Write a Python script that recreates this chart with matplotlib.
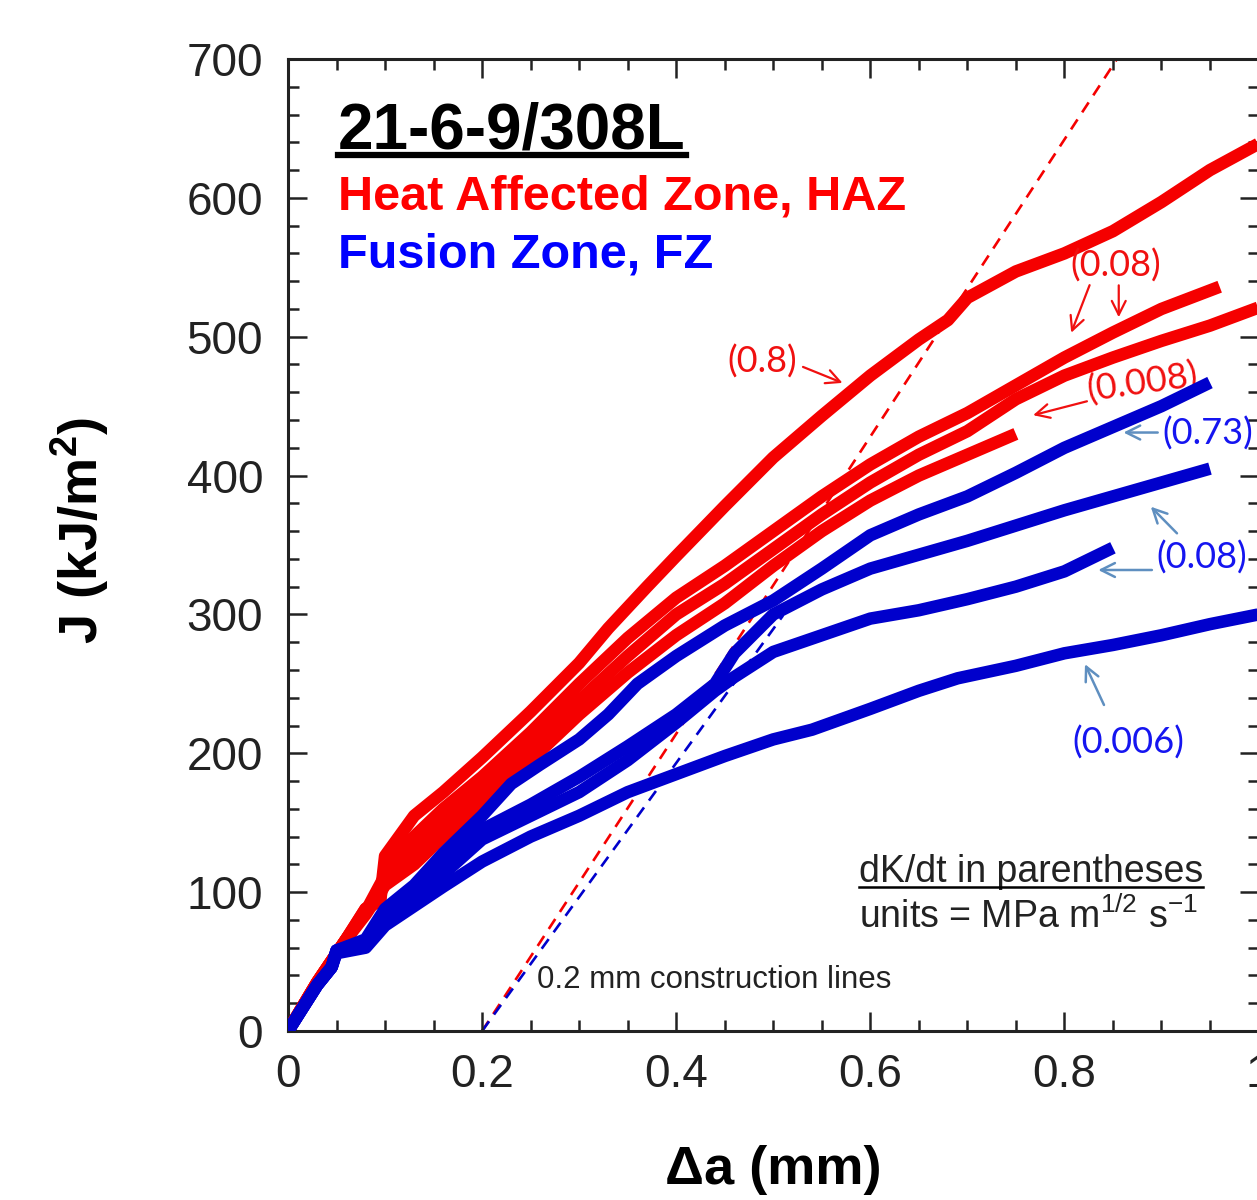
import matplotlib
matplotlib.use('Agg')
import matplotlib.pyplot as plt
from matplotlib.lines import Line2D
from matplotlib.ticker import MultipleLocator

plt.rcParams['font.family'] = ['Liberation Sans', 'DejaVu Sans']
plt.rcParams['mathtext.fontset'] = 'custom'
plt.rcParams['mathtext.rm'] = 'Liberation Sans'
plt.rcParams['mathtext.bf'] = 'Liberation Sans:bold'
plt.rcParams['mathtext.it'] = 'Liberation Sans:italic'

# HAZ (red) J-R curves, dK/dt in parentheses
haz_08_x = [0, 0.03, 0.06, 0.08, 0.095, 0.1, 0.13, 0.16, 0.2, 0.25, 0.3, 0.33, 0.37, 0.4, 0.45,
            0.5, 0.55, 0.6, 0.65, 0.68, 0.7, 0.75, 0.8, 0.85, 0.9, 0.95, 1.0]
haz_08_j = [0, 35, 66, 88, 95, 126, 155, 172, 197, 230, 265, 290, 320, 342, 378,
            413, 443, 472, 498, 512, 528, 547, 560, 576, 597, 620, 639]

haz_008a_x = [0, 0.03, 0.06, 0.08, 0.095, 0.1, 0.13, 0.16, 0.2, 0.25, 0.3, 0.35, 0.4, 0.45, 0.5,
              0.55, 0.6, 0.65, 0.7, 0.75, 0.8, 0.85, 0.9, 0.96]
haz_008a_j = [0, 35, 66, 88, 94, 120, 140, 160, 183, 215, 250, 283, 312, 335, 360,
              385, 408, 428, 445, 465, 485, 503, 520, 536]

haz_008b_x = [0, 0.03, 0.06, 0.08, 0.1, 0.13, 0.16, 0.2, 0.25, 0.3, 0.35, 0.4, 0.45, 0.5,
              0.55, 0.6, 0.65, 0.7, 0.75, 0.8, 0.85, 0.9, 0.95, 1.0]
haz_008b_j = [0, 35, 66, 86, 112, 130, 150, 175, 205, 238, 270, 300, 322, 347,
              372, 395, 415, 432, 455, 472, 485, 497, 508, 521]

haz_0008_x = [0, 0.03, 0.06, 0.08, 0.1, 0.13, 0.16, 0.2, 0.25, 0.3, 0.35, 0.4, 0.45, 0.5,
              0.55, 0.6, 0.65, 0.7, 0.75]
haz_0008_j = [0, 35, 66, 84, 105, 120, 140, 165, 195, 228, 258, 285, 308, 335,
              360, 382, 400, 415, 430]

# FZ (blue) J-R curves
fz_073_x = [0, 0.03, 0.045, 0.05, 0.08, 0.1, 0.13, 0.16, 0.2, 0.23, 0.26, 0.3, 0.33, 0.36, 0.4,
            0.45, 0.5, 0.55, 0.6, 0.65, 0.7, 0.75, 0.8, 0.85, 0.9, 0.95]
fz_073_j = [0, 33, 46, 58, 66, 88, 105, 128, 155, 178, 192, 210, 228, 250, 270,
            292, 310, 333, 357, 372, 385, 402, 420, 435, 450, 467]

fz_008a_x = [0, 0.03, 0.045, 0.05, 0.08, 0.1, 0.13, 0.16, 0.2, 0.25, 0.3, 0.35, 0.4, 0.44, 0.46,
             0.5, 0.55, 0.6, 0.65, 0.7, 0.75, 0.8, 0.85, 0.9, 0.95]
fz_008a_j = [0, 33, 46, 58, 64, 84, 100, 120, 145, 163, 183, 205, 228, 250, 272,
             300, 318, 333, 343, 353, 364, 375, 385, 395, 405]

fz_008b_x = [0, 0.03, 0.045, 0.05, 0.08, 0.1, 0.13, 0.16, 0.2, 0.25, 0.3, 0.35, 0.4, 0.44, 0.46,
             0.5, 0.55, 0.6, 0.65, 0.7, 0.75, 0.8, 0.85]
fz_008b_j = [0, 33, 46, 58, 62, 80, 95, 113, 138, 155, 172, 195, 222, 245, 255,
             273, 285, 297, 303, 311, 320, 331, 348]

fz_0006_x = [0, 0.03, 0.045, 0.05, 0.08, 0.1, 0.13, 0.16, 0.2, 0.25, 0.3, 0.35, 0.4, 0.45, 0.5,
             0.54, 0.6, 0.65, 0.69, 0.75, 0.8, 0.85, 0.9, 0.95, 1.0]
fz_0006_j = [0, 33, 46, 56, 60, 76, 90, 104, 122, 140, 155, 172, 185, 198, 210,
             217, 232, 245, 254, 263, 272, 278, 285, 293, 300]

# 0.2 mm offset construction lines
offset = 0.2
haz_slope, haz_end = 1070, 0.855
fz_slope, fz_end = 965, 0.51

red = '#F50000'
blue = '#0000CC'
red_txt = '#F01010'
blue_txt = '#1515F0'
blue_arrow = '#5F8FC0'

fig = plt.figure(figsize=(12.57, 12.0), dpi=100)
ax = fig.add_axes([288 / 1257, 169 / 1200, 970.5 / 1257, 972 / 1200])

# construction lines
ax.plot([offset, haz_end], [0, haz_slope * (haz_end - offset)], color=red, lw=1.9,
        dashes=(4.5, 3.2), zorder=1)
ax.plot([offset, fz_end], [0, fz_slope * (fz_end - offset)], color=blue, lw=1.9,
        dashes=(4.5, 3.2), zorder=1)

lw = 9
for xs, js in [(haz_08_x, haz_08_j), (haz_008a_x, haz_008a_j),
               (haz_008b_x, haz_008b_j), (haz_0008_x, haz_0008_j)]:
    ax.plot(xs, js, color=red, lw=lw, solid_capstyle='butt', zorder=3)
for xs, js in [(fz_073_x, fz_073_j), (fz_008a_x, fz_008a_j),
               (fz_008b_x, fz_008b_j), (fz_0006_x, fz_0006_j)]:
    ax.plot(xs, js, color=blue, lw=lw, solid_capstyle='butt', zorder=4)

ax.set_xlim(0, 1.0)
ax.set_ylim(0, 700)
ax.xaxis.set_minor_locator(MultipleLocator(0.05))
ax.yaxis.set_major_locator(MultipleLocator(100))
ax.yaxis.set_minor_locator(MultipleLocator(20))
ax.set_xticks([0, 0.2, 0.4, 0.6, 0.8, 1.0])
ax.set_xticklabels(['0', '0.2', '0.4', '0.6', '0.8', '1'])
ax.tick_params(which='both', direction='in', top=True, right=True, width=1.8, colors='#222222')
ax.tick_params(which='major', length=14, labelsize=33, pad=18)
ax.tick_params(which='minor', length=8)
ax.tick_params(axis='x', which='major', pad=16)
for s in ax.spines.values():
    s.set_linewidth(2.2)
    s.set_color('#222222')

ax.text(0.5, -0.143, 'Δa (mm)', transform=ax.transAxes, ha='center', va='center',
        fontsize=39, fontweight='bold')
ax.text(-0.214, 0.515, r'J (kJ/m$^{\mathbf{2}}$)', transform=ax.transAxes, ha='center',
        va='center', rotation=90, fontsize=39, fontweight='bold')

# title block
title = ax.text(0.0515, 0.908, '21-6-9/308L', transform=ax.transAxes, fontsize=46,
                fontweight='bold', color='black', va='baseline')
ax.text(0.0515, 0.845, 'Heat Affected Zone, HAZ', transform=ax.transAxes, fontsize=35,
        fontweight='bold', color='#FF0000', va='baseline')
ax.text(0.0515, 0.785, 'Fusion Zone, FZ', transform=ax.transAxes, fontsize=35,
        fontweight='bold', color='#0000FF', va='baseline')

note = ax.text(0.588, 0.153, 'dK/dt in parentheses', transform=ax.transAxes, fontsize=27,
               color='#222222', va='baseline')
ax.text(0.588, 0.106, r'units = MPa m$^{1/2}$ s$^{-1}$', transform=ax.transAxes, fontsize=27,
        color='#222222', va='baseline')
ax.text(0.257, 31, '0.2 mm construction lines', fontsize=22.5, color='#222222', va='baseline')

# rate labels and arrows
lab_font = ['Lato', 'DejaVu Sans']
fs = 26
ax.text(0.489, 482, '(0.8)', color=red_txt, fontsize=fs, family=lab_font, ha='center', va='center')
ax.annotate('', xy=(0.574, 466), xytext=(0.528, 479),
            arrowprops=dict(arrowstyle='->', color=red_txt, lw=1.6, mutation_scale=25))
ax.text(0.853, 551, '(0.08)', color=red_txt, fontsize=fs, family=lab_font, ha='center', va='center')
ax.annotate('', xy=(0.806, 501), xytext=(0.827, 539),
            arrowprops=dict(arrowstyle='->', color=red_txt, lw=1.6, mutation_scale=25))
ax.annotate('', xy=(0.856, 512), xytext=(0.856, 539),
            arrowprops=dict(arrowstyle='->', color=red_txt, lw=1.6, mutation_scale=25))
ax.text(0.880, 467, '(0.008)', color=red_txt, fontsize=fs, family=lab_font, ha='center',
        va='center', rotation=8)
ax.annotate('', xy=(0.765, 443), xytext=(0.826, 454),
            arrowprops=dict(arrowstyle='->', color=red_txt, lw=1.6, mutation_scale=25))

ax.text(0.901, 430, '(0.73)', color=blue_txt, fontsize=fs, family=lab_font, ha='left', va='center')
ax.annotate('', xy=(0.858, 431), xytext=(0.899, 431),
            arrowprops=dict(arrowstyle='->', color=blue_arrow, lw=1.8, mutation_scale=25))
ax.text(0.941, 341, '(0.08)', color=blue_txt, fontsize=fs, family=lab_font, ha='center', va='center')
ax.annotate('', xy=(0.887, 379), xytext=(0.918, 357),
            arrowprops=dict(arrowstyle='->', color=blue_arrow, lw=1.8, mutation_scale=25))
ax.annotate('', xy=(0.832, 332), xytext=(0.893, 332),
            arrowprops=dict(arrowstyle='->', color=blue_arrow, lw=1.8, mutation_scale=25))
ax.text(0.866, 208, '(0.006)', color=blue_txt, fontsize=fs, family=lab_font, ha='center', va='center')
ax.annotate('', xy=(0.820, 266), xytext=(0.842, 233),
            arrowprops=dict(arrowstyle='->', color=blue_arrow, lw=1.8, mutation_scale=25))

# underlines under the title and the note
fig.canvas.draw()
r = fig.canvas.get_renderer()
inv = fig.transFigure.inverted()
for t, gap, w in [(title, 7, 4.5), (note, 5, 1.8)]:
    bb = t.get_window_extent(renderer=r)
    x0 = inv.transform((bb.x0, 0))[0]
    x1 = inv.transform((bb.x1, 0))[0]
    base = t.get_transform().transform(t.get_position())[1] - gap
    yb = inv.transform((0, base))[1]
    fig.add_artist(Line2D([x0, x1], [yb, yb], transform=fig.transFigure, color='black', lw=w))

fig.savefig('out.png', dpi=100)
